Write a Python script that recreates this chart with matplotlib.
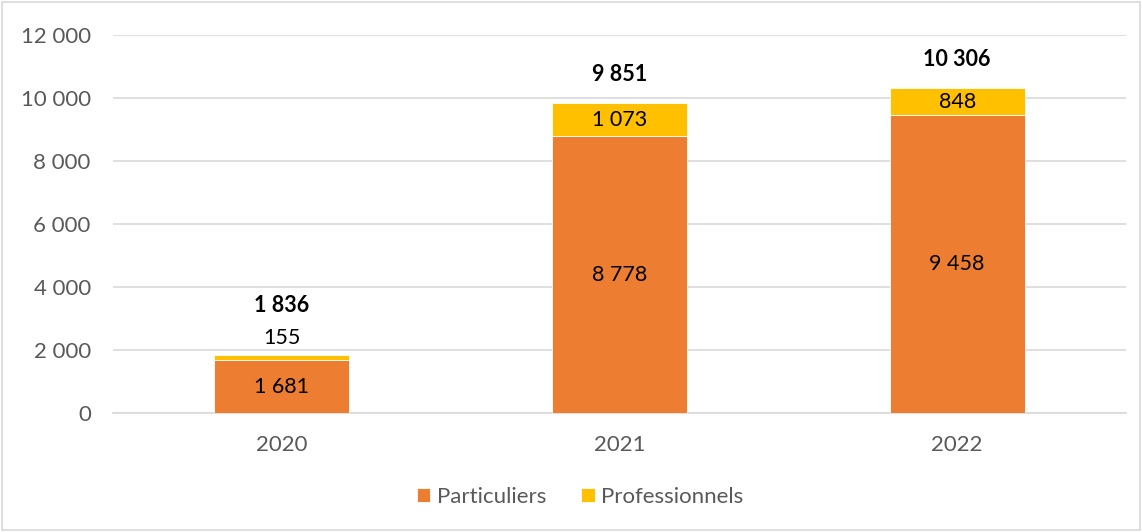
import numpy as np
import matplotlib.pyplot as plt
from matplotlib.patches import Rectangle

plt.rcParams['font.family'] = ['Lato', 'DejaVu Sans']

# Données
annees = ['2020', '2021', '2022']
particuliers = [1681, 8778, 9458]
professionnels = [155, 1073, 848]

orange = '#ED7D31'
jaune = '#FFC000'
gris = '#595959'


def fmt(v):
    return f'{v:,}'.replace(',', ' ')


fig = plt.figure(figsize=(11.42, 5.32), dpi=100)
ax = fig.add_axes([0.099, 0.2237, 0.887, 0.7106])

x = np.arange(len(annees))
part = np.array(particuliers)
pro = np.array(professionnels)
total = part + pro

b1 = ax.bar(x, part, width=0.4, color=orange, edgecolor='white', linewidth=0.6,
            label='Particuliers', zorder=3)
b2 = ax.bar(x, pro, width=0.4, bottom=part, color=jaune, edgecolor='white',
            linewidth=0.6, label='Professionnels', zorder=3)

fs = 15.5
for i in range(len(x)):
    ax.text(x[i], part[i] / 2, fmt(part[i]), ha='center', va='center',
            fontsize=fs, color='black', zorder=4)
    if pro[i] > 400:
        ax.text(x[i], part[i] + pro[i] / 2, fmt(pro[i]), ha='center',
                va='center', fontsize=fs, color='black', zorder=4)
        ax.text(x[i], total[i] + 900, fmt(total[i]), ha='center', va='center',
                fontsize=fs, fontweight='bold', color='black')
    else:
        ax.text(x[i], total[i] + 550, fmt(pro[i]), ha='center', va='center',
                fontsize=fs, color='black')
        ax.text(x[i], total[i] + 1580, fmt(total[i]), ha='center', va='center',
                fontsize=fs, fontweight='bold', color='black')

ax.set_xlim(-0.5, 2.5)
ax.set_ylim(0, 12000)
ax.set_yticks(np.arange(0, 12001, 2000))
ax.set_yticklabels([fmt(v) for v in range(0, 12001, 2000)])
ax.set_xticks(x)
ax.set_xticklabels(annees)
ax.tick_params(axis='both', length=0, labelsize=16, labelcolor=gris)
ax.tick_params(axis='y', pad=16)
ax.tick_params(axis='x', pad=16)
ax.grid(axis='y', color='#D9D9D9', linewidth=1.2, zorder=0)
for s in ['top', 'right', 'left']:
    ax.spines[s].set_visible(False)
ax.spines['bottom'].set_color('#D9D9D9')
ax.spines['bottom'].set_linewidth(1.2)

leg = fig.legend(handles=[b1, b2], loc='center', bbox_to_anchor=(0.508, 0.066),
                 ncol=2, frameon=False, fontsize=16, handlelength=0.6,
                 handleheight=0.6, handletextpad=0.3, columnspacing=1.6)
for t in leg.get_texts():
    t.set_color(gris)

fig.patches.append(Rectangle((0.002, 0.003), 0.996, 0.994, transform=fig.transFigure,
                             fill=False, edgecolor='#D9D9D9', linewidth=1.2))

fig.savefig('out.png', dpi=100)
